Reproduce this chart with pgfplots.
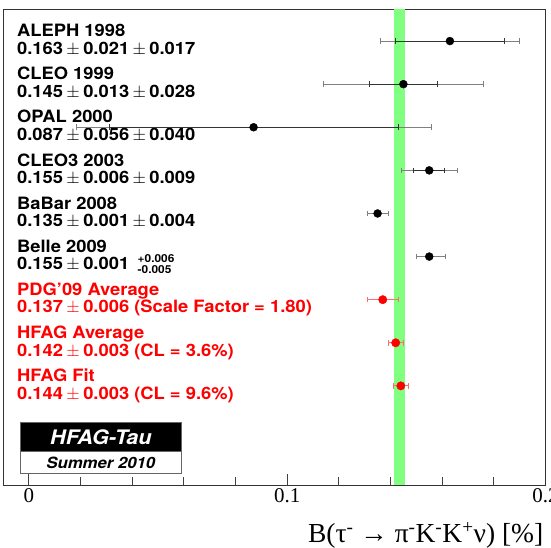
\documentclass[border=0pt]{standalone}
\usepackage{fontspec}
\setmainfont[FakeStretch=1.08]{TeX Gyre Heros}
\newfontfamily\seriffont{Liberation Serif}
\usepackage{pgfplots}
\pgfplotsset{compat=1.18}
\definecolor{bandgreen}{RGB}{128,255,128}
\definecolor{ered}{RGB}{255,110,110}
\newcommand\lab{\fontsize{17bp}{18bp}\bfseries\selectfont}
\newcommand\pmm{\hspace{0.2em}$\pm$\hspace{0.2em}}
\begin{document}
\begin{tikzpicture}
\begin{axis}[
  scale only axis,
  width=542.5bp, height=476bp,
  xmin=-0.01, xmax=0.2, ymin=-1.30, ymax=9.744,
  xtick={0,0.1,0.2}, xticklabels={0,0.1,0.2},
  minor x tick num=4,
  ytick=\empty,
  xtick pos=left, xticklabel pos=left,
  tick align=inside,
  major tick length=11bp, minor tick length=8bp,
  tick style={black!75, line width=0.7bp},
  axis line style={black!80, line width=0.8bp},
  xticklabel style={font=\seriffont\fontsize{21bp}{21bp}\selectfont},
  /pgf/number format/assume math mode=true,
  xlabel={B(τ\textsuperscript{-} → π\textsuperscript{-}K\textsuperscript{-}K\textsuperscript{+}ν) [\%]},
  xlabel style={font=\seriffont\fontsize{27.5bp}{28bp}\selectfont, at={(rel axis cs:1,0)}, anchor=base east, yshift=-57bp, xshift=-2bp, inner sep=0pt},
  clip=true,
]
% band
\addplot[fill=bandgreen, draw=none, forget plot] coordinates {(0.1412,-1.3) (0.1458,-1.3) (0.1458,9.744) (0.1412,9.744)} -- cycle;

% texts
\node[anchor=base west, font=\lab, inner sep=0pt, yshift=4.3bp] at (axis cs:-0.0046,9) {ALEPH 1998};
\node[anchor=base west, font=\lab, inner sep=0pt, yshift=-13.3bp] at (axis cs:-0.0046,9) {0.163\pmm 0.021\pmm 0.017};
\node[anchor=base west, font=\lab, inner sep=0pt, yshift=4.3bp] at (axis cs:-0.0046,8) {CLEO 1999};
\node[anchor=base west, font=\lab, inner sep=0pt, yshift=-13.3bp] at (axis cs:-0.0046,8) {0.145\pmm 0.013\pmm 0.028};
\node[anchor=base west, font=\lab, inner sep=0pt, yshift=4.3bp] at (axis cs:-0.0046,7) {OPAL 2000};
\node[anchor=base west, font=\lab, inner sep=0pt, yshift=-13.3bp] at (axis cs:-0.0046,7) {0.087\pmm 0.056\pmm 0.040};
\node[anchor=base west, font=\lab, inner sep=0pt, yshift=4.3bp] at (axis cs:-0.0046,6) {CLEO3 2003};
\node[anchor=base west, font=\lab, inner sep=0pt, yshift=-13.3bp] at (axis cs:-0.0046,6) {0.155\pmm 0.006\pmm 0.009};
\node[anchor=base west, font=\lab, inner sep=0pt, yshift=4.3bp] at (axis cs:-0.0046,5) {BaBar 2008};
\node[anchor=base west, font=\lab, inner sep=0pt, yshift=-13.3bp] at (axis cs:-0.0046,5) {0.135\pmm 0.001\pmm 0.004};
\node[anchor=base west, font=\lab, inner sep=0pt, yshift=4.3bp] at (axis cs:-0.0046,4) {Belle 2009};
\node[anchor=base west, font=\lab, inner sep=0pt, yshift=-13.3bp] at (axis cs:-0.0046,4) {0.155\pmm 0.001\hspace{0.5em}\raisebox{-4bp}{\fontsize{11bp}{12bp}\selectfont\shortstack[l]{+0.006\\ -0.005}}};
\node[anchor=base west, font=\lab, text=red, inner sep=0pt, yshift=4.3bp] at (axis cs:-0.0046,3) {PDG’09 Average};
\node[anchor=base west, font=\lab, text=red, inner sep=0pt, yshift=-13.3bp] at (axis cs:-0.0046,3) {0.137\pmm 0.006 (Scale Factor = 1.80)};
\node[anchor=base west, font=\lab, text=red, inner sep=0pt, yshift=4.3bp] at (axis cs:-0.0046,2) {HFAG Average};
\node[anchor=base west, font=\lab, text=red, inner sep=0pt, yshift=-13.3bp] at (axis cs:-0.0046,2) {0.142\pmm 0.003 (CL = 3.6\%)};
\node[anchor=base west, font=\lab, text=red, inner sep=0pt, yshift=4.3bp] at (axis cs:-0.0046,1) {HFAG Fit};
\node[anchor=base west, font=\lab, text=red, inner sep=0pt, yshift=-13.3bp] at (axis cs:-0.0046,1) {0.144\pmm 0.003 (CL = 9.6\%)};

% total errors
\addplot[only marks, mark=none, black!50,
  error bars/.cd, x dir=both, x explicit, error mark=|,
  error bar style={black!50, line width=0.7bp},
  error mark options={black!50, mark size=2.8bp, line width=0.7bp}]
coordinates {
(0.163,9) +- (0.0270,0)
(0.145,8) +- (0.0309,0)
(0.087,7) +- (0.0688,0)
(0.155,6) +- (0.0108,0)
(0.135,5) +- (0.0041,0)
(0.155,4) += (0.0061,0) -= (0.0051,0)
};
% stat errors
\addplot[only marks, mark=none, black!80,
  error bars/.cd, x dir=both, x explicit, error mark=|,
  error bar style={black!80, line width=0.7bp},
  error mark options={black!80, mark size=2.8bp, line width=0.7bp}]
coordinates {
(0.163,9) +- (0.021,0)
(0.145,8) +- (0.013,0)
(0.087,7) +- (0.056,0)
(0.155,6) +- (0.006,0)
(0.135,5) +- (0.001,0)
(0.155,4) +- (0.001,0)
};
% averages errors
\addplot[only marks, mark=none, ered,
  error bars/.cd, x dir=both, x explicit, error mark=|,
  error bar style={ered, line width=0.8bp},
  error mark options={ered, mark size=2.8bp, line width=0.8bp}]
coordinates {
(0.137,3) +- (0.006,0)
(0.142,2) +- (0.003,0)
(0.144,1) +- (0.003,0)
};
\addplot[only marks, mark=*, mark size=4bp, black] coordinates {
(0.163,9) (0.145,8) (0.087,7) (0.155,6) (0.135,5) (0.155,4)
};
\addplot[only marks, mark=*, mark size=4.2bp, red] coordinates {
(0.137,3) (0.142,2) (0.144,1)
};

% HFAG-Tau box
\fill[black] (rel axis cs:0.0313,0.070) rectangle (rel axis cs:0.3294,0.1309);
\draw[black!60, fill=white, line width=0.8bp] (rel axis cs:0.0313,0.0246) rectangle (rel axis cs:0.3294,0.070);
\draw[black!60, line width=0.8bp] (rel axis cs:0.0313,0.0246) rectangle (rel axis cs:0.3294,0.1309);
\node[text=white, font=\fontsize{20bp}{20bp}\bfseries\itshape\selectfont] at (rel axis cs:0.1804,0.1005) {HFAG-Tau};
\node[text=black, font=\fontsize{15.5bp}{15bp}\bfseries\itshape\selectfont] at (rel axis cs:0.1804,0.0473) {Summer 2010};
\end{axis}
\pgfresetboundingbox
\path[use as bounding box] ([xshift=-3bp,yshift=9bp]current axis.north west) rectangle ([xshift=5.5bp,yshift=-63bp]current axis.south east);
\end{tikzpicture}
\end{document}
